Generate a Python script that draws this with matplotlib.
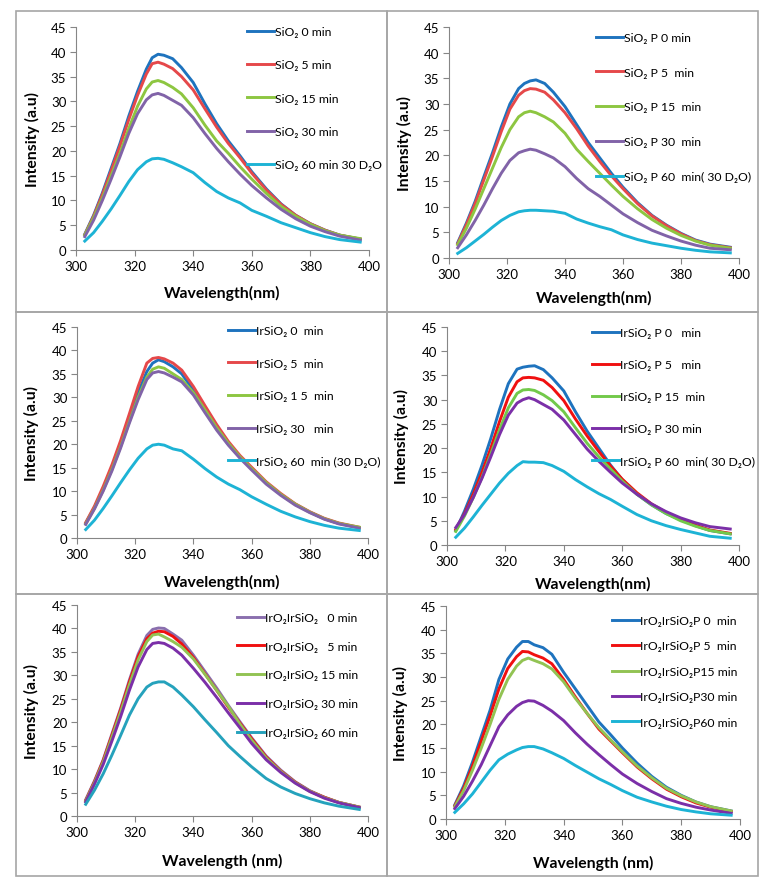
import matplotlib
matplotlib.use('Agg')
import matplotlib.pyplot as plt
from matplotlib.patches import Rectangle

plt.rcParams['font.family'] = ['Lato', 'Noto Sans', 'DejaVu Sans']

# wavelength grid (nm)
wl = [303, 306, 309, 312, 315, 318, 321, 324, 326, 328, 330, 333, 336,
      340, 344, 348, 352, 356, 360, 365, 370, 375, 380, 385, 390, 397]

# SiO2
sio2_0 = [3.2, 7, 11.5, 16.5, 21.5, 27, 32, 36.5, 38.8, 39.5, 39.3, 38.6, 36.8,
          33.8, 29.5, 25.5, 22, 19, 15.8, 12.3, 9.3, 7, 5.3, 4, 3, 2.2]
sio2_5 = [3.1, 6.8, 11.2, 16, 21, 26.3, 31.2, 35.5, 37.6, 37.9, 37.5, 36.6, 35,
          32.3, 28.5, 24.8, 21.5, 18.6, 15.5, 12.1, 9.2, 7, 5.3, 4, 3, 2.2]
sio2_15 = [3, 6.5, 10.5, 15, 19.5, 24.5, 29, 32.5, 33.9, 34.2, 33.8, 32.8, 31.5,
           28.7, 25.2, 22, 19.5, 16.8, 14.3, 11.4, 8.8, 6.8, 5.2, 3.9, 3, 2.3]
sio2_30 = [2.7, 6, 10, 14.3, 18.8, 23.5, 27.5, 30.3, 31.3, 31.6, 31.2, 30.2, 29.2,
           26.7, 23.5, 20.5, 17.8, 15.3, 13, 10.5, 8.2, 6.3, 4.8, 3.7, 2.8, 2.0]
sio2_60 = [1.8, 3.5, 5.8, 8.3, 11, 13.8, 16.2, 17.8, 18.4, 18.5, 18.3, 17.6, 16.8,
           15.6, 13.6, 11.8, 10.5, 9.5, 8, 6.8, 5.5, 4.5, 3.5, 2.7, 2.1, 1.6]

# SiO2 P
sio2p_0 = [3, 6.8, 11, 15.8, 20.5, 25.5, 30, 33, 34, 34.5, 34.7, 34, 32.3,
           29.5, 26, 22.5, 19.5, 16.5, 13.8, 10.8, 8.3, 6.4, 4.8, 3.5, 2.7, 2.1]
sio2p_5 = [2.8, 6.5, 10.6, 15.2, 19.8, 24.6, 29, 31.7, 32.6, 33, 32.9, 32.3, 30.8,
           28.3, 25.2, 21.8, 18.8, 16, 13.5, 10.6, 8.2, 6.3, 4.7, 3.4, 2.6, 2]
sio2p_15 = [2.6, 5.8, 9.5, 13.5, 17.5, 21.5, 25, 27.5, 28.3, 28.6, 28.3, 27.5, 26.5,
            24.3, 21.2, 18.8, 16.5, 14.2, 12, 9.6, 7.5, 5.8, 4.4, 3.3, 2.5, 1.9]
sio2p_30 = [2.0, 4.5, 7.3, 10.3, 13.5, 16.5, 19, 20.5, 20.9, 21.2, 21, 20.3, 19.5,
            17.8, 15.5, 13.5, 12, 10.3, 8.6, 6.9, 5.4, 4.3, 3.3, 2.5, 1.9, 1.6]
sio2p_60 = [0.9, 2, 3.3, 4.6, 6, 7.3, 8.3, 9.0, 9.2, 9.3, 9.3, 9.2, 9.1,
            8.7, 7.6, 6.8, 6.1, 5.5, 4.5, 3.6, 2.9, 2.4, 1.9, 1.5, 1.2, 1.0]

# IrSiO2
ir_0 = [3.2, 6.5, 10.5, 15, 20, 25.5, 31, 35.5, 37.3, 38, 37.6, 36.5, 35,
        31.5, 27.5, 23.5, 20, 17.2, 14.8, 11.8, 9.3, 7.2, 5.5, 4.1, 3.1, 2.2]
ir_5 = [3.3, 6.8, 11, 15.6, 20.8, 26.5, 32.3, 37.3, 38.3, 38.5, 38.2, 37.3, 35.8,
        32.3, 28.2, 24.2, 20.6, 17.6, 15.1, 12, 9.5, 7.3, 5.6, 4.2, 3.2, 2.3]
ir_15 = [3.0, 6.3, 10.2, 14.6, 19.5, 24.8, 30, 34.3, 36, 36.5, 36.2, 35, 33.8,
         31, 27.3, 23.5, 20.2, 17.3, 14.8, 11.8, 9.3, 7.2, 5.5, 4.1, 3.1, 2.3]
ir_30 = [2.9, 6.2, 10, 14.3, 19.2, 24.5, 29.5, 33.8, 35.2, 35.5, 35.2, 34.3, 33.3,
         30.5, 26.7, 23, 19.8, 17, 14.5, 11.5, 9.1, 7.0, 5.4, 4.0, 3.0, 2.1]
ir_60 = [1.8, 3.8, 6.3, 9, 11.8, 14.5, 17, 19, 19.8, 20, 19.8, 19, 18.6,
         16.8, 14.8, 13, 11.5, 10.3, 8.8, 7.2, 5.7, 4.5, 3.5, 2.7, 2.1, 1.6]

# IrSiO2 P
irp_0 = [3, 7, 11.5, 16.5, 22, 28, 33.3, 36.3, 36.7, 36.9, 37, 36.2, 34.5,
         31.8, 27.5, 23.5, 20, 16.5, 13.5, 10.5, 8.3, 6.5, 5.2, 4.0, 3.0, 2.3]
irp_5 = [3.2, 6.5, 10.5, 15, 20, 25.5, 30.5, 33.7, 34.5, 34.6, 34.5, 34, 32.5,
         29.8, 26, 22.5, 19.3, 16.3, 13.6, 10.8, 8.5, 6.7, 5.3, 4.1, 3.1, 2.4]
irp_15 = [2.8, 6, 9.8, 14, 18.8, 23.8, 28.3, 31.3, 32, 32.1, 31.9, 31, 29.8,
          27.5, 24.2, 21, 18.2, 15.7, 13.2, 10.5, 8.3, 6.5, 5.0, 3.9, 3.0, 2.3]
irp_30 = [3.6, 6.3, 9.8, 13.8, 18.2, 22.8, 26.8, 29.3, 30, 30.4, 30, 29, 28,
          25.8, 22.8, 19.8, 17.3, 15, 12.8, 10.5, 8.5, 6.9, 5.6, 4.6, 3.8, 3.3]
irp_60 = [1.6, 3.5, 5.8, 8.2, 10.5, 12.8, 14.8, 16.4, 17.2, 17.1, 17.1, 17, 16.4,
          15.2, 13.5, 12, 10.6, 9.4, 8, 6.3, 5.0, 4.0, 3.2, 2.5, 1.8, 1.4]

# IrO2IrSiO2
iro_0 = [3.5, 7.5, 12, 17.5, 23, 29, 34.5, 38.5, 39.8, 40.1, 40, 38.8, 37.5,
         34.3, 30.8, 27.3, 23.6, 20.1, 16.7, 12.8, 9.8, 7.3, 5.4, 4, 2.9, 1.9]
iro_5 = [3.3, 7.3, 11.8, 17.2, 22.7, 28.6, 34, 37.8, 39, 39.4, 39.3, 38.3, 36.7,
         33.8, 30.3, 26.8, 23.2, 19.8, 16.5, 12.6, 9.6, 7.2, 5.3, 4, 2.9, 1.9]
iro_15 = [3.2, 7.1, 11.5, 16.8, 22.2, 28, 33.3, 37.2, 38.6, 38.8, 38.2, 37.2, 36,
          33.5, 30.2, 26.8, 23.4, 19.6, 16.2, 12.4, 9.5, 7.1, 5.3, 3.9, 2.9, 1.9]
iro_30 = [3.0, 6.8, 11, 16, 21.2, 26.8, 31.8, 35.5, 36.8, 37, 36.8, 35.8, 34.3,
          31.5, 28.5, 25.3, 22, 18.8, 15.5, 12, 9.3, 7, 5.2, 3.8, 2.8, 1.8]
iro_60 = [2.5, 5.5, 9, 13, 17.2, 21.5, 25, 27.5, 28.3, 28.6, 28.6, 27.5, 25.8,
          23.3, 20.5, 17.8, 15, 12.7, 10.5, 8, 6.2, 4.8, 3.7, 2.8, 2.1, 1.4]

# IrO2IrSiO2P
irop_0 = [3.0, 7, 12, 17.5, 23, 29.5, 33.8, 36.3, 37.5, 37.5, 36.8, 36.2, 34.8,
          31, 27.5, 24, 20.5, 17.8, 15, 11.8, 9, 6.7, 5, 3.6, 2.6, 1.7]
irop_5 = [2.8, 6.5, 11.2, 16.5, 21.8, 27.5, 31.8, 34.3, 35.4, 35.3, 34.7, 34, 32.8,
          29.5, 25.8, 22.3, 19, 16.5, 14, 11, 8.5, 6.3, 4.7, 3.4, 2.5, 1.6]
irop_15 = [2.6, 6, 10.3, 15, 20, 25.3, 29.5, 32.3, 33.5, 34, 33.5, 32.8, 31.7,
           29, 25.5, 22.3, 19.3, 16.7, 14.2, 11.2, 8.7, 6.5, 4.9, 3.6, 2.6, 1.7]
irop_30 = [2.2, 4.8, 8, 11.5, 15.5, 19.5, 22, 23.8, 24.6, 25, 24.9, 24, 22.8,
           20.8, 18.2, 15.8, 13.6, 11.5, 9.5, 7.5, 5.8, 4.3, 3.3, 2.5, 1.9, 1.2]
irop_60 = [1.4, 3.2, 5.3, 7.8, 10.3, 12.5, 13.7, 14.6, 15.1, 15.3, 15.3, 14.8, 14,
           12.8, 11.3, 9.9, 8.5, 7.3, 6, 4.6, 3.6, 2.7, 2, 1.5, 1.1, 0.8]

labels_sio2 = ['SiO₂ 0 min', 'SiO₂ 5 min', 'SiO₂ 15 min', 'SiO₂ 30 min',
               'SiO₂ 60 min 30 D₂O']
labels_sio2p = ['SiO₂ P 0 min', 'SiO₂ P 5  min', 'SiO₂ P 15  min', 'SiO₂ P 30  min',
                'SiO₂ P 60  min( 30 D₂O)']
labels_ir = ['IrSiO₂ 0  min', 'IrSiO₂ 5  min', 'IrSiO₂ 1 5  min', 'IrSiO₂ 30   min',
             'IrSiO₂ 60  min (30 D₂O)']
labels_irp = ['IrSiO₂ P 0   min', 'IrSiO₂ P 5   min', 'IrSiO₂ P 15  min',
              'IrSiO₂ P 30 min', 'IrSiO₂ P 60  min( 30 D₂O)']
labels_iro = ['IrO₂IrSiO₂   0 min', 'IrO₂IrSiO₂   5 min', 'IrO₂IrSiO₂ 15 min',
              'IrO₂IrSiO₂ 30 min', 'IrO₂IrSiO₂ 60 min']
labels_irop = ['IrO₂IrSiO₂P 0  min', 'IrO₂IrSiO₂P 5  min', 'IrO₂IrSiO₂P15 min',
               'IrO₂IrSiO₂P30 min', 'IrO₂IrSiO₂P60 min']

blue = '#1E73BE'
cyan = '#1DB3D5'
cols_a = [blue, '#E5484A', '#8DC641', '#8163A8', cyan]
cols_b = [blue, '#F01010', '#72C94A', '#7B2FA8', cyan]
cols_c = ['#8A6FAE', '#F01010', '#92C353', '#7B2FA8', '#25A2BC']
cols_d = [blue, '#F01010', '#92C353', '#7B2FA8', cyan]

W, H = 775, 895
fig = plt.figure(figsize=(7.75, 8.95), dpi=100)


def panel(box, series, labels, colors, xlabel, leg_x, leg_top, ls, xlab_top, ylab_right):
    x0, y0, x1, y1 = box
    ax = fig.add_axes([x0 / W, 1 - y1 / H, (x1 - x0) / W, (y1 - y0) / H])
    for y, lab, c in zip(series, labels, colors):
        ax.plot(wl, y, color=c, lw=2.1, label=lab)
    ax.set_xlim(300, 400)
    ax.set_ylim(0, 45)
    ax.set_xticks(range(300, 401, 20))
    ax.set_yticks(range(0, 46, 5))
    ax.spines['top'].set_visible(False)
    ax.spines['right'].set_visible(False)
    for s in ['left', 'bottom']:
        ax.spines[s].set_color('#868686')
    ax.tick_params(direction='out', length=4, color='#868686', labelsize=9.5, pad=3)
    ax.set_xlabel(xlabel, fontweight='bold', fontsize=11.3)
    ax.set_ylabel('Intensity (a.u)', fontweight='bold', fontsize=11.3)
    ax.xaxis.set_label_coords((x0 + x1) / 2 / W, 1 - xlab_top / H, transform=fig.transFigure)
    ax.yaxis.set_label_coords(ylab_right / W, 1 - (y0 + y1) / 2 / H, transform=fig.transFigure)
    ax.legend(loc='upper left', bbox_to_anchor=(leg_x / W, 1 - leg_top / H),
              bbox_transform=fig.transFigure, frameon=False, fontsize=8.8,
              handlelength=2.2, handletextpad=0.12, labelspacing=ls,
              borderpad=0, borderaxespad=0)
    return ax


panel((76, 28, 369, 251), [sio2_0, sio2_5, sio2_15, sio2_30, sio2_60], labels_sio2,
      cols_a, 'Wavelength(nm)', 247, 27, 1.83, 286, 40)
panel((449, 28, 739, 259), [sio2p_0, sio2p_5, sio2p_15, sio2p_30, sio2p_60], labels_sio2p,
      cols_a, 'Wavelength(nm)', 596, 33, 1.94, 291, 412)
panel((77, 328, 368, 539), [ir_0, ir_5, ir_15, ir_30, ir_60], labels_ir,
      cols_a, 'Wavelength(nm)', 228, 326, 1.77, 575, 39)
panel((447, 328, 739, 546), [irp_0, irp_5, irp_15, irp_30, irp_60], labels_irp,
      cols_b, 'Wavelength(nm)', 592, 328, 1.73, 577, 409)
panel((77, 606, 368, 817), [iro_0, iro_5, iro_15, iro_30, iro_60], labels_iro,
      cols_c, 'Wavelength (nm)', 237, 613, 1.45, 854, 39)
panel((446, 607, 740, 820), [irop_0, irop_5, irop_15, irop_30, irop_60], labels_irop,
      cols_d, 'Wavelength (nm)', 612, 616, 1.18, 856, 408)

# panel frames
for (fx0, fy0, fx1, fy1) in [(16, 12, 387, 313), (387, 12, 758, 313),
                             (16, 313, 387, 595), (387, 313, 758, 595),
                             (16, 595, 387, 877), (387, 595, 758, 877)]:
    fig.add_artist(Rectangle((fx0 / W, 1 - fy1 / H), (fx1 - fx0) / W, (fy1 - fy0) / H,
                             transform=fig.transFigure, fill=False,
                             edgecolor='#A6A6A6', lw=1.2))

fig.savefig('out.png', dpi=100)
